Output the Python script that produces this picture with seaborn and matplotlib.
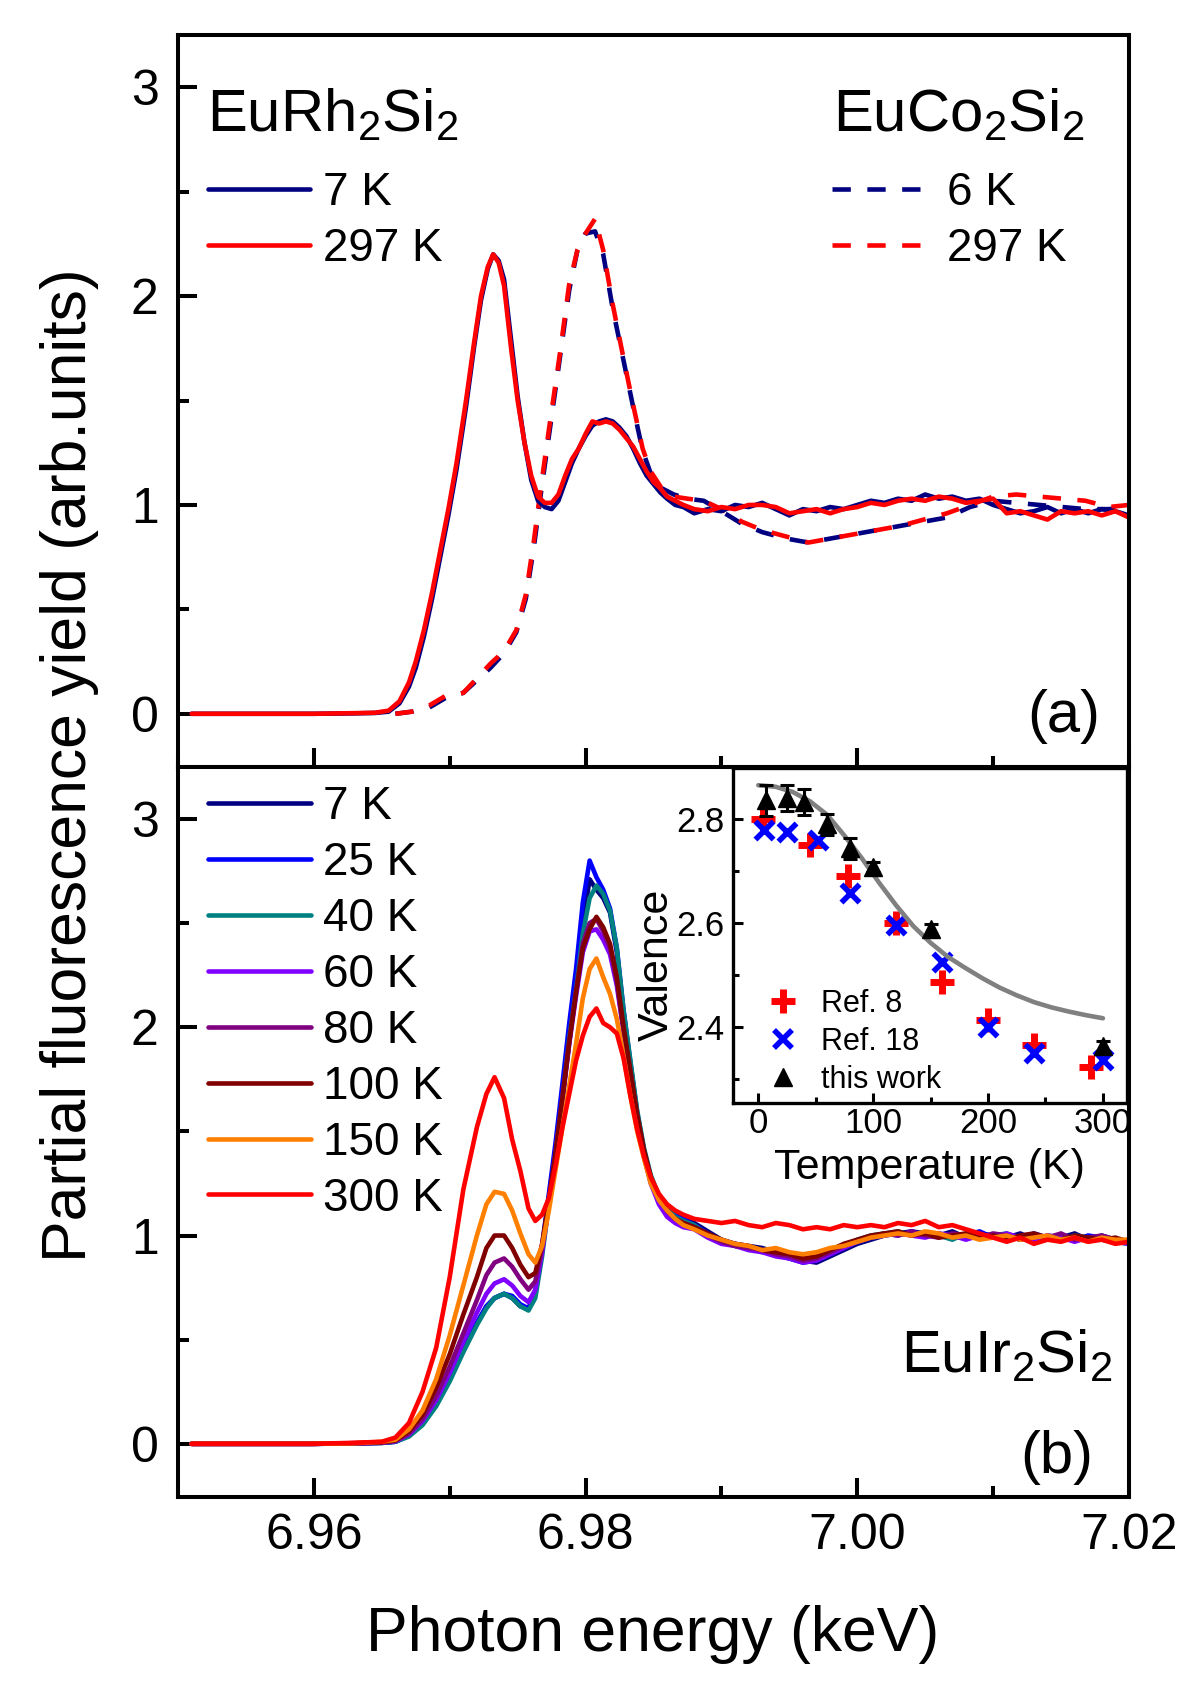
import matplotlib
matplotlib.use("Agg")
import matplotlib.pyplot as plt
import seaborn as sns
from matplotlib.lines import Line2D
from matplotlib.ticker import MultipleLocator, FormatStrFormatter

# ---------------- data (energies in keV) ----------------
# (a) EuRh2Si2, solid lines
rh_energy = [6.951, 6.955, 6.960, 6.963, 6.9645, 6.9655, 6.9663, 6.9670, 6.9675, 6.9681,
             6.9687, 6.9693, 6.9699, 6.9705, 6.9712, 6.9718, 6.9723, 6.9728, 6.9732, 6.9736,
             6.9740, 6.9745, 6.9750, 6.9755, 6.9760, 6.9765, 6.9770, 6.9775, 6.9780, 6.9785,
             6.9790, 6.9795, 6.9800, 6.9805, 6.9810, 6.9815, 6.9820, 6.9825, 6.9830, 6.9835,
             6.9840, 6.9845, 6.9850, 6.9855, 6.9860, 6.9866, 6.9872, 6.9880,
             6.989, 6.990, 6.991, 6.992, 6.993, 6.994, 6.995, 6.996, 6.997, 6.998, 6.999,
             7.000, 7.001, 7.002, 7.003, 7.004, 7.005, 7.006, 7.007, 7.008, 7.009, 7.010,
             7.011, 7.012, 7.013, 7.014, 7.015, 7.016, 7.017, 7.018, 7.019, 7.020]
rh_7K = [0, 0, 0, 0.002, 0.004, 0.01, 0.05, 0.13, 0.22, 0.37,
         0.55, 0.75, 0.95, 1.17, 1.47, 1.76, 1.98, 2.13, 2.20, 2.17,
         2.08, 1.80, 1.52, 1.30, 1.12, 1.02, 0.99, 0.98, 1.02, 1.11,
         1.20, 1.27, 1.33, 1.38, 1.40, 1.41, 1.40, 1.37, 1.33, 1.27,
         1.20, 1.14, 1.10, 1.06, 1.03, 1.00, 0.99, 0.96,
         0.98, 0.97, 1.00, 0.99, 1.01, 0.98, 0.95, 0.98, 0.97, 0.99, 0.98,
         1.00, 1.02, 1.01, 1.03, 1.02, 1.05, 1.03, 1.04, 1.02, 1.03, 1.00,
         0.98, 0.96, 0.97, 0.99, 0.96, 0.98, 0.96, 0.98, 0.97, 0.95]
rh_297K = [0, 0, 0, 0.003, 0.005, 0.015, 0.06, 0.15, 0.25, 0.40,
           0.58, 0.78, 0.98, 1.20, 1.50, 1.78, 2.00, 2.14, 2.20, 2.16,
           2.05, 1.76, 1.50, 1.30, 1.14, 1.04, 1.01, 1.01, 1.05, 1.14,
           1.22, 1.27, 1.34, 1.40, 1.39, 1.40, 1.39, 1.36, 1.32, 1.28,
           1.22, 1.16, 1.11, 1.08, 1.04, 1.02, 1.00, 0.98,
           0.97, 0.99, 0.98, 1.00, 1.00, 0.99, 0.96, 0.97, 0.98, 0.96, 0.98,
           0.99, 1.01, 1.00, 1.02, 1.03, 1.02, 1.04, 1.03, 1.01, 1.02, 1.03,
           0.96, 0.97, 0.95, 0.93, 0.97, 0.96, 0.97, 0.95, 0.97, 0.94]

# (a) EuCo2Si2, dashed lines
co_energy = [6.9660, 6.9672, 6.9685, 6.9698, 6.9710, 6.9720, 6.9730, 6.9740, 6.9749, 6.9756,
             6.9762, 6.9767, 6.9773, 6.9781, 6.9788, 6.9794, 6.9800, 6.9807, 6.9813, 6.9820,
             6.9828, 6.9835, 6.9842, 6.9848, 6.9856, 6.9865, 6.9875, 6.9887, 6.9900, 6.9915,
             6.9930, 6.9947, 6.9964, 6.9981, 6.9998, 7.0015, 7.0032, 7.0049, 7.0066, 7.0083,
             7.0100, 7.0117, 7.0134, 7.0151, 7.0168, 7.0185, 7.0200]
co_6K = [0.0, 0.01, 0.03, 0.08, 0.10, 0.16, 0.22, 0.29, 0.39, 0.55,
         0.80, 1.05, 1.33, 1.70, 2.03, 2.22, 2.30, 2.31, 2.20, 1.94,
         1.69, 1.47, 1.26, 1.15, 1.08, 1.05, 1.03, 1.02, 0.97, 0.91,
         0.87, 0.84, 0.82, 0.84, 0.86, 0.88, 0.90, 0.92, 0.94, 0.99,
         1.02, 1.01, 1.00, 0.99, 0.98, 0.98, 0.99]
co_297K = [0.0, 0.01, 0.04, 0.09, 0.10, 0.17, 0.24, 0.30, 0.40, 0.57,
           0.83, 1.08, 1.36, 1.72, 2.06, 2.22, 2.30, 2.37, 2.22, 1.96,
           1.70, 1.48, 1.27, 1.16, 1.08, 1.04, 1.03, 1.02, 0.98, 0.92,
           0.88, 0.85, 0.82, 0.84, 0.86, 0.88, 0.90, 0.93, 0.96, 1.00,
           1.04, 1.05, 1.04, 1.03, 1.02, 0.99, 1.00]

# (b) EuIr2Si2 at several temperatures
ir_energy = [6.951, 6.955, 6.960, 6.963, 6.965, 6.966, 6.967, 6.968, 6.969, 6.970,
             6.971, 6.972, 6.9727, 6.9733, 6.9740, 6.9746, 6.9752, 6.9758, 6.9763, 6.9768,
             6.9773, 6.9778, 6.9783, 6.9788, 6.9793, 6.9798, 6.9803, 6.9808, 6.9813, 6.9818,
             6.9823, 6.9828, 6.9833, 6.9838, 6.9843, 6.9848, 6.9854, 6.9860, 6.9866, 6.9872,
             6.9880,
             6.989, 6.990, 6.991, 6.992, 6.993, 6.994, 6.995, 6.996, 6.997, 6.998,
             6.999, 7.000, 7.001, 7.002, 7.003, 7.004, 7.005, 7.006, 7.007, 7.008,
             7.009, 7.010, 7.011, 7.012, 7.013, 7.014, 7.015, 7.016, 7.017, 7.018,
             7.019, 7.020]
ir_7K = [0, 0, 0, 0.002, 0.005, 0.01, 0.04, 0.10, 0.19, 0.31,
         0.45, 0.58, 0.66, 0.70, 0.72, 0.70, 0.66, 0.65, 0.72, 0.93,
         1.18, 1.42, 1.70, 1.98, 2.22, 2.50, 2.71, 2.66, 2.62, 2.55,
         2.36, 2.06, 1.82, 1.58, 1.40, 1.28, 1.19, 1.14, 1.10, 1.08,
         1.06,
         1.02, 0.98, 0.96, 0.95, 0.94, 0.92, 0.90, 0.88, 0.87, 0.90,
         0.93, 0.96, 0.98, 1.00, 1.01, 1.02, 1.01, 1.00, 1.02, 0.99,
         1.01, 1.00, 0.99, 1.01, 0.98, 1.00, 0.99, 1.01, 0.98, 1.00,
         0.98, 0.97]
ir_25K = [0, 0, 0, 0.002, 0.005, 0.01, 0.04, 0.10, 0.19, 0.31,
          0.45, 0.58, 0.66, 0.70, 0.72, 0.71, 0.67, 0.65, 0.73, 0.95,
          1.20, 1.45, 1.73, 2.02, 2.28, 2.60, 2.80, 2.72, 2.66, 2.57,
          2.38, 2.08, 1.83, 1.59, 1.41, 1.28, 1.19, 1.14, 1.10, 1.08,
          1.05,
          1.01, 0.97, 0.96, 0.94, 0.93, 0.91, 0.89, 0.87, 0.88, 0.91,
          0.94, 0.97, 0.99, 1.01, 1.00, 1.02, 1.00, 1.01, 0.99, 1.00,
          1.02, 0.99, 1.00, 0.98, 1.01, 0.99, 1.00, 0.98, 1.00, 0.99,
          0.97, 0.98]
ir_40K = [0, 0, 0, 0.002, 0.004, 0.01, 0.035, 0.09, 0.18, 0.30,
          0.44, 0.57, 0.65, 0.70, 0.72, 0.70, 0.66, 0.64, 0.70, 0.90,
          1.15, 1.40, 1.66, 1.95, 2.18, 2.45, 2.62, 2.68, 2.64, 2.56,
          2.38, 2.08, 1.84, 1.60, 1.42, 1.29, 1.19, 1.13, 1.09, 1.07,
          1.05,
          1.00, 0.97, 0.95, 0.94, 0.92, 0.91, 0.89, 0.88, 0.89, 0.92,
          0.95, 0.98, 1.00, 1.01, 1.02, 1.00, 1.01, 1.00, 0.98, 1.01,
          0.99, 1.00, 1.01, 0.98, 1.00, 0.99, 0.98, 1.00, 0.99, 0.98,
          0.97, 0.96]
ir_60K = [0, 0, 0, 0.002, 0.005, 0.012, 0.045, 0.11, 0.21, 0.34,
          0.49, 0.63, 0.72, 0.77, 0.79, 0.76, 0.71, 0.68, 0.74, 0.92,
          1.15, 1.40, 1.65, 1.92, 2.15, 2.36, 2.46, 2.47, 2.42, 2.35,
          2.20, 1.98, 1.78, 1.56, 1.38, 1.25, 1.15, 1.09, 1.06, 1.04,
          1.03,
          0.99, 0.96, 0.95, 0.93, 0.92, 0.90, 0.89, 0.87, 0.88, 0.91,
          0.94, 0.97, 0.99, 1.00, 1.01, 1.00, 0.99, 1.01, 1.00, 0.98,
          1.00, 0.99, 1.01, 0.99, 0.98, 1.00, 0.99, 0.97, 0.99, 0.98,
          0.97, 0.96]
ir_80K = [0, 0, 0, 0.003, 0.006, 0.014, 0.05, 0.12, 0.23, 0.37,
          0.53, 0.69, 0.81, 0.87, 0.89, 0.85, 0.79, 0.74, 0.78, 0.94,
          1.16, 1.40, 1.66, 1.93, 2.17, 2.40, 2.50, 2.52, 2.46, 2.38,
          2.22, 1.98, 1.78, 1.57, 1.40, 1.27, 1.18, 1.12, 1.08, 1.06,
          1.04,
          1.00, 0.97, 0.95, 0.94, 0.93, 0.91, 0.90, 0.88, 0.89, 0.92,
          0.95, 0.97, 0.99, 1.01, 1.00, 1.02, 1.00, 0.99, 1.01, 1.00,
          0.99, 1.01, 1.00, 0.98, 1.00, 0.99, 1.01, 0.98, 0.99, 1.00,
          0.98, 0.97]
ir_100K = [0, 0, 0, 0.003, 0.007, 0.016, 0.06, 0.14, 0.27, 0.43,
           0.62, 0.80, 0.94, 1.00, 1.00, 0.94, 0.86, 0.80, 0.82, 0.96,
           1.17, 1.40, 1.66, 1.93, 2.17, 2.38, 2.47, 2.53, 2.48, 2.40,
           2.24, 2.00, 1.79, 1.58, 1.41, 1.28, 1.18, 1.12, 1.08, 1.06,
           1.04,
           1.01, 0.98, 0.96, 0.95, 0.93, 0.92, 0.91, 0.89, 0.90, 0.93,
           0.96, 0.98, 1.00, 1.01, 1.02, 1.00, 1.01, 0.99, 1.00, 1.01,
           0.99, 1.00, 0.98, 1.00, 1.01, 0.99, 0.98, 1.00, 0.99, 0.98,
           0.99, 0.97]
ir_150K = [0, 0, 0, 0.003, 0.01, 0.02, 0.07, 0.16, 0.31, 0.52,
           0.76, 1.00, 1.15, 1.21, 1.20, 1.12, 1.01, 0.91, 0.87, 0.95,
           1.12, 1.32, 1.52, 1.72, 1.92, 2.14, 2.28, 2.33, 2.24, 2.16,
           2.04, 1.86, 1.67, 1.50, 1.37, 1.25, 1.17, 1.12, 1.08, 1.05,
           1.03,
           1.00, 0.98, 0.96, 0.95, 0.93, 0.94, 0.92, 0.91, 0.92, 0.94,
           0.95, 0.97, 0.99, 1.00, 1.01, 1.00, 1.02, 1.01, 0.99, 1.00,
           0.98, 0.99, 1.00, 0.98, 0.99, 1.00, 0.98, 0.99, 0.97, 0.99,
           0.98, 0.98]
ir_300K = [0, 0, 0, 0.005, 0.01, 0.03, 0.10, 0.25, 0.46, 0.80,
           1.22, 1.52, 1.68, 1.76, 1.66, 1.46, 1.31, 1.13, 1.07, 1.10,
           1.18, 1.34, 1.52, 1.68, 1.84, 1.96, 2.05, 2.09, 2.02, 2.00,
           1.97, 1.85, 1.67, 1.51, 1.38, 1.28, 1.20, 1.15, 1.12, 1.10,
           1.08,
           1.07, 1.06, 1.07, 1.05, 1.04, 1.06, 1.05, 1.03, 1.04, 1.03,
           1.05, 1.04, 1.05, 1.04, 1.06, 1.05, 1.07, 1.04, 1.05, 1.03,
           1.01, 0.99, 0.97, 0.99, 0.96, 0.98, 0.97, 0.99, 0.97, 0.98,
           0.96, 0.97]
ir_labels = ["7 K", "25 K", "40 K", "60 K", "80 K", "100 K", "150 K", "300 K"]
ir_colors = ["#000080", "#0000FF", "#008080", "#8000FF", "#800080", "#800000", "#FF8000", "#FF0000"]

# inset: valence vs temperature
ref8_T = [4, 45, 78, 120, 160, 200, 240, 290]
ref8_v = [2.80, 2.75, 2.69, 2.60, 2.487, 2.413, 2.365, 2.324]
ref18_T = [5, 25, 52, 80, 120, 160, 200, 240, 300]
ref18_v = [2.779, 2.776, 2.76, 2.657, 2.596, 2.526, 2.40, 2.35, 2.337]
work_T = [7, 25, 40, 60, 80, 100, 150, 300]
work_v = [2.836, 2.84, 2.833, 2.79, 2.744, 2.708, 2.588, 2.363]
work_err = [0.03, 0.025, 0.025, 0.02, 0.02, 0.01, 0.01, 0.01]
fit_T = [0, 15, 30, 45, 60, 75, 90, 105, 120, 135, 150, 165, 180, 195, 210,
         225, 240, 255, 270, 285, 300]
fit_v = [2.865, 2.862, 2.852, 2.834, 2.808, 2.768, 2.725, 2.678, 2.634, 2.594, 2.562,
         2.535, 2.514, 2.494, 2.476, 2.461, 2.448, 2.438, 2.430, 2.423, 2.417]

# ---------------- style ----------------
sns.set_theme(style="ticks")
plt.rcParams['font.family'] = ['Liberation Sans', 'DejaVu Sans']
plt.rcParams['mathtext.fontset'] = 'custom'
plt.rcParams['mathtext.rm'] = 'Liberation Sans'
plt.rcParams['mathtext.it'] = 'Liberation Sans:italic'
plt.rcParams['mathtext.default'] = 'regular'
plt.rcParams['text.color'] = 'black'
plt.rcParams['axes.labelcolor'] = 'black'
plt.rcParams['xtick.color'] = 'black'
plt.rcParams['ytick.color'] = 'black'
plt.rcParams['axes.edgecolor'] = 'black'

LW = 3.3
DASH = (0, (4, 3.6))


def style_main(ax, show_xlabels):
    for s in ax.spines.values():
        s.set_linewidth(2.9)
        s.set_color('black')
    ax.set_xlim(6.95, 7.02)
    ax.set_ylim(-0.255, 3.25)
    ax.xaxis.set_major_locator(MultipleLocator(0.02))
    ax.xaxis.set_minor_locator(MultipleLocator(0.01))
    ax.xaxis.set_major_formatter(FormatStrFormatter('%.2f'))
    ax.yaxis.set_major_locator(MultipleLocator(1))
    ax.yaxis.set_minor_locator(MultipleLocator(0.5))
    ax.tick_params(which='both', direction='in', width=2.9, colors='black',
                   top=False, right=False, labelsize=36)
    ax.tick_params(which='major', length=14)
    ax.tick_params(which='minor', length=8)
    ax.tick_params(axis='x', pad=11.5, labelbottom=show_xlabels)
    ax.tick_params(axis='y', pad=14)
    ax.set_xlabel('')
    ax.set_ylabel('')


fig = plt.figure(figsize=(11.9, 17.03), dpi=100)
ax1 = fig.add_axes([0.1496, 0.5496, 0.7991, 0.4298])
ax2 = fig.add_axes([0.1496, 0.1210, 0.7991, 0.4287])

# ---------------- panel (a) ----------------
sns.lineplot(x=co_energy, y=co_6K, ax=ax1, color='#000080', linewidth=LW, linestyle=DASH,
             sort=False, estimator=None)
sns.lineplot(x=co_energy, y=co_297K, ax=ax1, color='#FF0000', linewidth=LW, linestyle=DASH,
             sort=False, estimator=None)
sns.lineplot(x=rh_energy, y=rh_7K, ax=ax1, color='#000080', linewidth=LW,
             sort=False, estimator=None)
sns.lineplot(x=rh_energy, y=rh_297K, ax=ax1, color='#FF0000', linewidth=LW,
             sort=False, estimator=None)
style_main(ax1, False)

ax1.text(0.0305, 0.8675, r'EuRh$_2$Si$_2$', transform=ax1.transAxes, fontsize=43,
         ha='left', va='baseline')
ax1.text(0.6887, 0.8675, r'EuCo$_2$Si$_2$', transform=ax1.transAxes, fontsize=43,
         ha='left', va='baseline')
ax1.text(0.931, 0.0685, '(a)', transform=ax1.transAxes, fontsize=43, ha='center', va='center')

h_rh = [Line2D([], [], color='#000080', lw=LW), Line2D([], [], color='#FF0000', lw=LW)]
leg_rh = ax1.legend(h_rh, ['7 K', '297 K'], loc='upper left', bbox_to_anchor=(0.0315, 0.814),
                    frameon=False, fontsize=33, handlelength=2.23, handletextpad=0.28,
                    labelspacing=0.26, borderpad=0, borderaxespad=0)
ax1.add_artist(leg_rh)
h_co = [Line2D([], [], color='#000080', lw=LW, linestyle=DASH),
        Line2D([], [], color='#FF0000', lw=LW, linestyle=DASH)]
ax1.legend(h_co, ['6 K', '297 K'], loc='upper left', bbox_to_anchor=(0.6877, 0.814),
           frameon=False, fontsize=33, handlelength=2.07, handletextpad=0.44,
           labelspacing=0.26, borderpad=0, borderaxespad=0)

# ---------------- panel (b) ----------------
ir_series = [ir_7K, ir_25K, ir_40K, ir_60K, ir_80K, ir_100K, ir_150K, ir_300K]
for vals, col in zip(ir_series, ir_colors):
    sns.lineplot(x=ir_energy, y=vals, ax=ax2, color=col, linewidth=LW,
                 sort=False, estimator=None)
style_main(ax2, True)

ax2.text(0.760, 0.170, r'EuIr$_2$Si$_2$', transform=ax2.transAxes, fontsize=43,
         ha='left', va='baseline')
ax2.text(0.924, 0.0534, '(b)', transform=ax2.transAxes, fontsize=43, ha='center', va='center')

h_ir = [Line2D([], [], color=c, lw=LW) for c in ir_colors]
ax2.legend(h_ir, ir_labels, loc='upper left', bbox_to_anchor=(0.0315, 0.975),
           frameon=False, fontsize=33, handlelength=2.25, handletextpad=0.26,
           labelspacing=0.26, borderpad=0, borderaxespad=0)

# ---------------- inset ----------------
axin = fig.add_axes([0.6160, 0.3523, 0.3311, 0.1967])
axin.set_facecolor('white')
sns.scatterplot(x=ref8_T, y=ref8_v, ax=axin, marker='+', color='#FF0000', s=300,
                linewidth=5, zorder=3)
sns.scatterplot(x=ref18_T, y=ref18_v, ax=axin, marker='x', color='#0000FF', s=170,
                linewidth=4, zorder=3)
sns.lineplot(x=fit_T, y=fit_v, ax=axin, color='#808080', linewidth=3.3, sort=False,
             estimator=None, zorder=4)
axin.errorbar(work_T, work_v, yerr=work_err, fmt='^', color='black', ms=13,
              elinewidth=2.2, capsize=5, capthick=2.2, zorder=5)
axin.set_xlim(-22, 321)
axin.set_ylim(2.254, 2.898)
axin.xaxis.set_major_locator(MultipleLocator(100))
axin.xaxis.set_minor_locator(MultipleLocator(50))
axin.yaxis.set_major_locator(MultipleLocator(0.2))
axin.yaxis.set_minor_locator(MultipleLocator(0.1))
axin.yaxis.set_major_formatter(FormatStrFormatter('%.1f'))
for s in axin.spines.values():
    s.set_linewidth(2.4)
    s.set_color('black')
axin.tick_params(which='both', direction='in', width=2.2, colors='black',
                 top=False, right=False, labelsize=25)
axin.tick_params(which='major', length=7)
axin.tick_params(which='minor', length=4)
axin.tick_params(axis='x', pad=3)
axin.tick_params(axis='y', pad=6)
axin.set_xlabel('')
axin.set_ylabel('')

h_in = [Line2D([], [], marker='+', color='#FF0000', ms=17, mew=5, ls='none'),
        Line2D([], [], marker='x', color='#0000FF', ms=13, mew=4, ls='none'),
        Line2D([], [], marker='^', color='black', ms=13, ls='none')]
axin.legend(h_in, ['Ref. 8', 'Ref. 18', 'this work'], loc='lower left',
            bbox_to_anchor=(0.089, 0.024), frameon=False, fontsize=22,
            handlelength=1.0, handletextpad=0.72, labelspacing=0.26,
            borderpad=0, borderaxespad=0)

fig.text(929 / 1190, 1 - 1168 / 1703, 'Temperature (K)', fontsize=31, ha='center', va='center')
fig.text(657 / 1190, 1 - 965 / 1703, 'Valence', fontsize=31, ha='center', va='center',
         rotation=90)

# ---------------- shared labels ----------------
fig.text(70 / 1190, 1 - 765 / 1703, 'Partial fluorescence yield (arb.units)', fontsize=45,
         ha='center', va='center', rotation=90)
fig.text(653 / 1190, 1 - 1634 / 1703, 'Photon energy (keV)', fontsize=45,
         ha='center', va='center')

fig.savefig('out.png', dpi=100, facecolor='white')
